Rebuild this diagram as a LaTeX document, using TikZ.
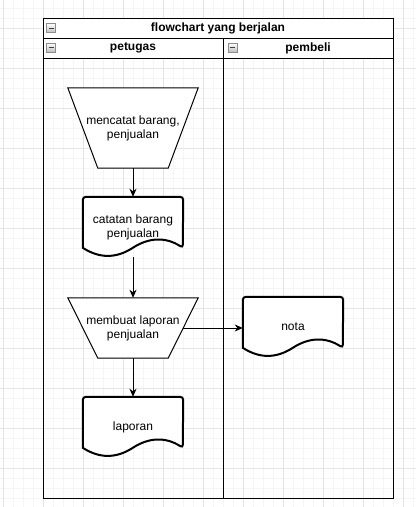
\documentclass[tikz,border=0pt]{standalone}
\usepackage{fontspec}
\setmainfont{Liberation Sans}
\usetikzlibrary{arrows.meta,calc}

\pgfdeclarelayer{gridlayer}
\pgfdeclarelayer{shapelayer}
\pgfsetlayers{gridlayer,shapelayer,main}

\tikzset{
    minorgrid/.style = {draw=black!4, line width=1pt},
    majorgrid/.style = {draw=black!10, line width=1pt},
    lane/.style = {draw=black, line width=1pt},
    heading/.style = {font=\fontsize{12}{14}\selectfont\bfseries},
    proc/.style = {minimum width=130pt, inner sep=0pt, align=center, font=\fontsize{12}{14}\selectfont},
    procline/.style = {draw=black, line width=1pt, fill=white},
    docbox/.style = {minimum width=100pt, minimum height=60pt, inner sep=0pt, align=center, font=\fontsize{12}{14}\selectfont},
    docline/.style = {draw=black, line width=2pt, fill=white},
    flowarrow/.style = {draw=black, line width=1pt, -{Stealth[length=8pt, width=7pt, inset=2.5pt]}},
    minusbox/.style = {minimum size=9pt, inner sep=0pt, draw=black!45, top color=white, bottom color=black!25,
        path picture={\draw[black!75, line width=1pt] ($(path picture bounding box.west)+(2,0)$) -- ($(path picture bounding box.east)+(-2,0)$);}}
}

% document outline, wavy bottom
\newcommand{\docoutline}[1]{
    \draw[docline] ($(#1.north west)+(0,51)$) {[rounded corners=3pt] -- (#1.north west) -- (#1.north east) -- ($(#1.north west)+(100,51)$)}
        .. controls ($(#1.north west)+(83.33,40.2)$) and ($(#1.north west)+(66.67,40.2)$) .. ($(#1.north west)+(50,51)$)
        .. controls ($(#1.north west)+(33.33,61.8)$) and ($(#1.north west)+(16.67,61.8)$) .. cycle;
}

% trapezoid outline, wide on top
\newcommand{\procoutline}[1]{
    \draw[procline] (#1.north west) -- (#1.north east) -- ([xshift=-30pt]#1.south east) -- ([xshift=30pt]#1.south west) -- cycle;
}

\begin{document}
\begin{tikzpicture}[x=1pt, y=-1pt]
    \useasboundingbox (0, 0) rectangle (416, 507);

    \begin{pgfonlayer}{gridlayer}
        \fill[white] (0, 0) rectangle (416, 507);
        \draw[minorgrid, step=10pt, shift={(3, 8)}] (-3, -8) grid (413, 499);
        \draw[majorgrid, step=40pt, shift={(3, 28)}] (-3, -28) grid (413, 479);
    \end{pgfonlayer}

    % pool and lanes
    \fill[white] (43, 18) rectangle (393, 58);
    \draw[lane] (43, 18) rectangle (393, 498);
    \draw[lane] (43, 38) -- (393, 38);
    \draw[lane] (43, 58) -- (393, 58);
    \draw[lane] (223, 38) -- (223, 498);

    \node[heading] (title) at (218, 28) {flowchart yang berjalan};
    \node[heading] (petugas) at (133, 48) {petugas};
    \node[heading] (pembeli) at (308, 48) {pembeli};

    \node[minusbox] (mtitle) at (51, 28) {};
    \node[minusbox] (mpetugas) at (51, 47.5) {};
    \node[minusbox] (mpembeli) at (232.5, 47.5) {};

    % flow
    \node[proc, minimum height=80pt] (catat) at (133, 128) {mencatat barang,\\penjualan};
    \node[docbox] (catatan) at (133, 227) {catatan barang\\penjualan};
    \node[proc, minimum height=60pt] (buat) at (133, 328) {membuat laporan\\penjualan};
    \node[docbox] (laporan) at (133, 427) {laporan};
    \node[docbox] (nota) at (293, 327) {nota};

    \begin{pgfonlayer}{shapelayer}
        \procoutline{catat}
        \procoutline{buat}
        \docoutline{catatan}
        \docoutline{laporan}
        \docoutline{nota}
    \end{pgfonlayer}

    \coordinate (buatright) at ([xshift=-15pt]buat.east);

    \draw[flowarrow] (catat.south) -- (catatan.north);
    \draw[flowarrow] (catatan.south) -- (buat.north);
    \draw[flowarrow] (buat.south) -- (laporan.north);
    \draw[flowarrow] (buatright) -- (buatright -| nota.west);

\end{tikzpicture}
\end{document}
